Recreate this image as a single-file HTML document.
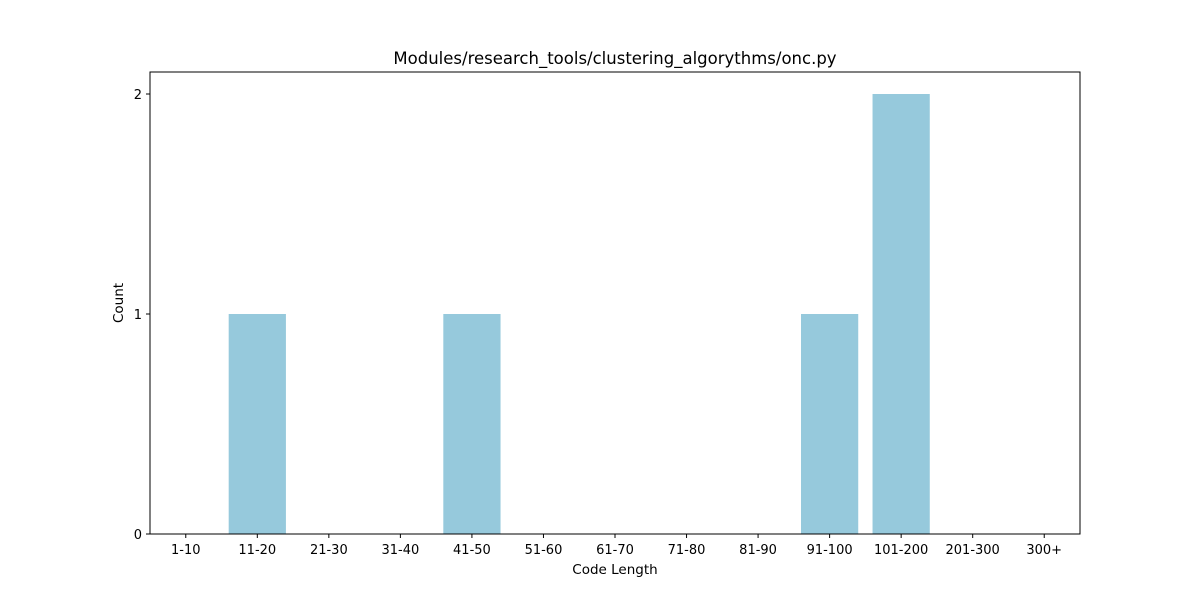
<!DOCTYPE html>
<html><head><meta charset="utf-8"><style>
body{margin:0;background:#fff;}
svg{display:block;font-family:"DejaVu Sans","Liberation Sans",sans-serif;}
</style></head><body>
<svg id="chart" width="1200" height="600">
<rect width="1200" height="600" fill="#fff"/>
<text x="615" y="64" font-size="16.5" text-anchor="middle">Modules/research_tools/clustering_algorythms/onc.py</text>
<g id="bars"></g>
<g id="xticks"></g>
<g id="yticks"></g>
<rect x="150" y="72" width="930" height="462" fill="none" stroke="#000" stroke-width="1"/>
<text x="615" y="574" font-size="13.5" text-anchor="middle">Code Length</text>
<text x="123" y="303" font-size="13.5" text-anchor="middle" transform="rotate(-90 123 303)">Count</text>
</svg>
<script>
const categories=["1-10","11-20","21-30","31-40","41-50","51-60","61-70","71-80","81-90","91-100","101-200","201-300","300+"];
const counts=[0,1,0,0,1,0,0,0,0,1,2,0,0];
const yTickValues=[0,1,2];
const NS="http://www.w3.org/2000/svg";
const L=150,R=1080,T=72,B=534,yMax=2.1;
const xs=i=>L+(i+0.5)*(R-L)/categories.length;
const ys=v=>B-v*(B-T)/yMax;
const bw=0.8*(R-L)/categories.length;
const bars=document.getElementById('bars'),xt=document.getElementById('xticks'),yt=document.getElementById('yticks');
function mk(t,a){const e=document.createElementNS(NS,t);for(const k in a)e.setAttribute(k,a[k]);return e;}
categories.forEach((c,i)=>{
  const v=counts[i];
  const r=mk('rect',{x:xs(i)-bw/2,y:ys(v),width:bw,height:B-ys(v),fill:'#96c9dc'});
  
  
  bars.appendChild(r);
  const tk=mk('line',{x1:xs(i),x2:xs(i),y1:B,y2:B+4,stroke:'#000'});
  
  
  xt.appendChild(tk);
  const tl=mk('text',{x:xs(i),y:B+20,'font-size':13,'text-anchor':'middle'});
  tl.textContent=c;
  
  
  xt.appendChild(tl);
});
yTickValues.forEach(v=>{
  const tk=mk('line',{x1:L-4,x2:L,y1:ys(v),y2:ys(v),stroke:'#000'});
  
  
  yt.appendChild(tk);
  const tl=mk('text',{x:L-8,y:ys(v)+5,'font-size':13,'text-anchor':'end'});
  tl.textContent=v;
  
  
  yt.appendChild(tl);
});
</script>
</body></html>
